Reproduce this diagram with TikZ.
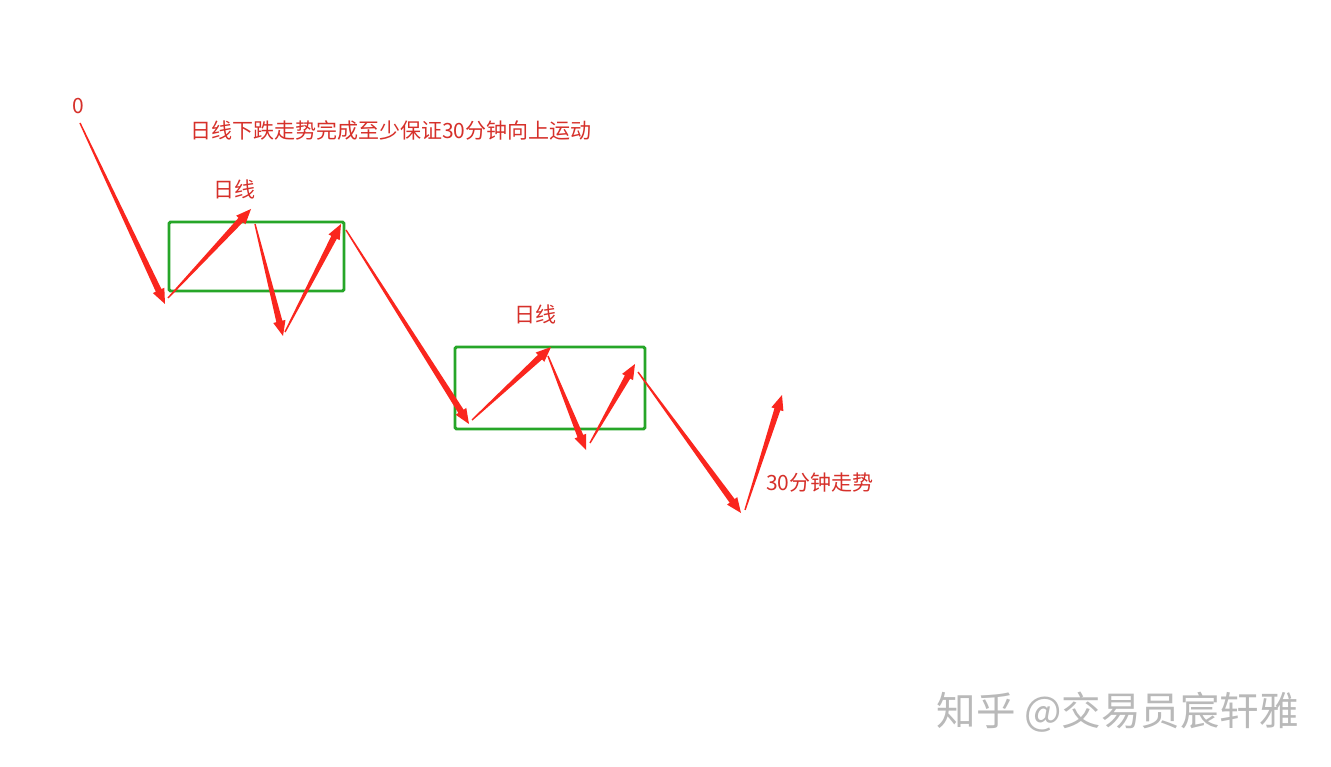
\documentclass[tikz,border=0pt]{standalone}
\usepackage{fontspec}
\setmainfont{Noto Sans CJK SC}
\usetikzlibrary{calc}
\definecolor{arr}{RGB}{250,38,30}
\definecolor{txt}{RGB}{214,48,42}
\definecolor{boxg}{RGB}{38,166,40}
\definecolor{wm}{RGB}{185,185,185}
\newcommand\taper[2]{%
  \path ($(#2)!15pt!(#1)$) coordinate (hb);
  \fill[arr] ($(#1)!0.7pt!90:(#2)$) -- ($(hb)!3.1pt!90:(#2)$) -- ($(hb)!6.3pt!90:(#2)$)
    -- (#2) -- ($(hb)!6.3pt!-90:(#2)$) -- ($(hb)!3.1pt!-90:(#2)$) -- ($(#1)!0.7pt!-90:(#2)$) -- cycle;}
\tikzset{
  lbl/.style={text=txt, inner sep=0pt, font=\fontsize{21pt}{21pt}\selectfont},
  wmark/.style={text=wm, inner sep=0pt, font=\fontsize{39.5pt}{39.5pt}\selectfont},
  zbox/.style={draw=boxg, line width=2.9pt, rounded corners=1.5pt}
}
\begin{document}
\begin{tikzpicture}[x=1pt,y=-1pt]
\useasboundingbox[fill=white] (0,0) rectangle (1331,767);
% boxes
\draw[zbox] (169,222) rectangle (344,291);
\draw[zbox] (455,347) rectangle (645,429);
% points
\coordinate (a0) at (80,123);
\coordinate (a1) at (165,304);
\coordinate (b0) at (168,298);
\coordinate (b1) at (251,209);
\coordinate (c0) at (255,224);
\coordinate (c1) at (283,336);
\coordinate (d0) at (285,332);
\coordinate (d1) at (341,224);
\coordinate (e0) at (346,230);
\coordinate (e1) at (469,424);
\coordinate (f0) at (472,420);
\coordinate (f1) at (551,347);
\coordinate (g0) at (548,356);
\coordinate (g1) at (586,450);
\coordinate (h0) at (590,443);
\coordinate (h1) at (635,364);
\coordinate (i0) at (638,372);
\coordinate (i1) at (741,513);
\coordinate (j0) at (745,510);
\coordinate (j1) at (782,395);
\taper{a0}{a1}
\taper{b0}{b1}
\taper{c0}{c1}
\taper{d0}{d1}
\taper{e0}{e1}
\taper{f0}{f1}
\taper{g0}{g1}
\taper{h0}{h1}
\taper{i0}{i1}
\taper{j0}{j1}
% labels
\node[lbl] (zero) at (78,106) {0};
\node[lbl, anchor=west] (title) at (190,131) {日线下跌走势完成至少保证30分钟向上运动};
\node[lbl] (d1lbl) at (234,189) {日线};
\node[lbl] (d2lbl) at (535,314) {日线};
\node[lbl, anchor=west] (m30) at (766,483) {30分钟走势};
\node[wmark, anchor=east] (wmk) at (1299,712) {知乎 @交易员宸轩雅};
\end{tikzpicture}
\end{document}
